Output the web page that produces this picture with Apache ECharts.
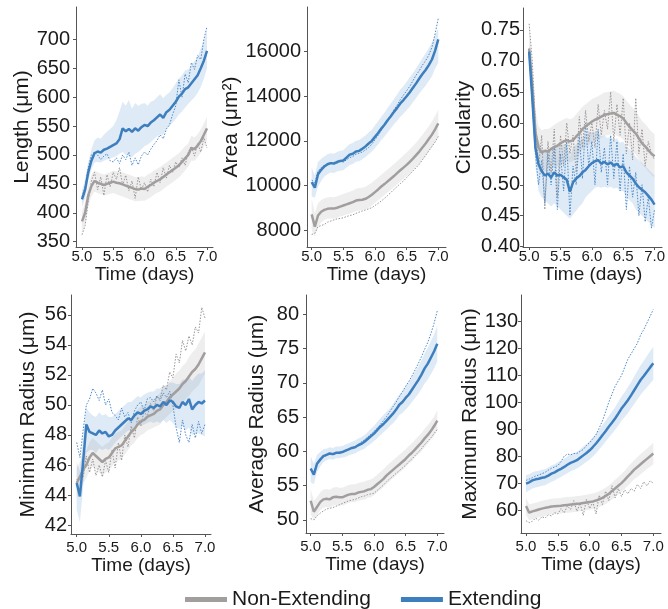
<!DOCTYPE html>
<html><head><meta charset="utf-8">
<script src="https://cdn.jsdelivr.net/npm/echarts@6/dist/echarts.min.js"></script>
<style>html,body{margin:0;padding:0;background:#fff}#c{width:668px;height:609px}</style>
</head><body><div id="c"></div>
<script>
// ---- data ----
const timeDays = [5.00,5.05,5.10,5.15,5.20,5.25,5.30,5.35,5.40,5.45,5.50,5.55,5.60,5.65,5.70,5.75,5.80,5.85,5.90,5.95,6.00,6.05,6.10,6.15,6.20,6.25,6.30,6.35,6.40,6.45,6.50,6.55,6.60,6.65,6.70,6.75,6.80,6.85,6.90,6.95,7.00];
const xTicks = [5.0,5.5,6.0,6.5,7.0];
const seriesNames = ['Non-Extending','Extending'];

// Length (um)
const lenTicks = [350,400,450,500,550,600,650,700];
const lenExtMean = [423,440,470,490,503,506,504,509,511,514,517,520,527,546,541,545,540,546,542,548,552,550,556,560,565,570,564,574,578,585,592,601,606,614,617,624,631,638,650,663,680];
const lenExtLo = [410,425,455,475,487,488,487,490,492,494,496,498,502,505,500,498,496,502,505,510,515,518,522,527,532,536,535,545,550,556,562,570,575,582,588,594,600,607,618,632,650];
const lenExtHi = [438,458,488,510,525,530,528,535,540,545,550,560,575,592,585,595,580,590,585,588,590,585,592,594,600,605,598,604,608,616,624,632,638,646,648,656,662,670,684,698,716];
const lenExtInd = [428,445,478,500,505,500,492,498,502,490,488,495,485,500,492,505,482,495,483,498,505,500,510,518,525,535,528,545,552,570,585,630,600,640,625,660,648,672,665,700,722];
const lenNonMean = [385,400,430,446,455,452,450,448,450,452,454,452,451,449,447,445,443,441,440,442,441,445,448,452,455,458,462,466,470,474,478,482,488,494,500,512,510,516,524,535,546];
const lenNonLo = [365,380,410,428,437,434,432,430,431,433,434,432,430,428,426,424,422,420,420,421,421,424,427,431,434,437,441,445,449,453,457,461,467,473,480,490,490,496,504,514,526];
const lenNonHi = [402,418,448,465,473,470,468,466,468,470,473,472,471,470,468,466,464,462,461,463,462,466,469,473,476,479,483,487,491,495,499,503,509,515,520,533,530,536,544,555,566];
const lenNonInd = [362,378,420,455,470,440,462,430,466,445,470,458,478,448,465,438,455,425,462,440,452,436,458,445,470,452,478,460,482,470,488,478,495,482,505,515,498,520,505,530,512];

// Area (um^2)
const areaTicks = [8000,10000,12000,14000,16000];
const areaExtMean = [10150,9900,10500,10700,10850,10950,11000,10980,11050,11100,11120,11250,11380,11420,11520,11550,11650,11750,11880,12000,12180,12350,12550,12720,12920,13100,13300,13480,13680,13830,14000,14180,14380,14580,14800,15000,15180,15400,15650,16050,16550];
const areaExtLo = [9500,9450,9950,10200,10400,10500,10580,10560,10620,10660,10680,10800,10920,10960,11060,11080,11180,11280,11400,11520,11680,11850,12040,12200,12380,12550,12740,12900,13080,13220,13380,13540,13730,13920,14120,14300,14470,14680,14900,15250,15500];
const areaExtHi = [10800,10450,11050,11200,11300,11400,11440,11420,11500,11560,11580,11720,11860,11900,12000,12040,12140,12240,12380,12500,12700,12880,13080,13260,13480,13680,13880,14080,14300,14460,14650,14850,15050,15260,15480,15720,15920,16150,16420,16750,17050];
const areaExtInd = [10250,10100,10650,10800,10900,10950,11000,11050,11000,11080,11050,11150,11250,11300,11400,11450,11500,11600,11700,11850,12050,12250,12480,12700,12950,13150,13400,13600,13850,14050,14250,14450,14700,14950,15150,15400,15600,15850,16200,16800,17500];
const areaNonMean = [8700,8150,8650,8820,8900,8950,8970,8960,9000,9050,9100,9150,9200,9250,9320,9350,9360,9400,9480,9580,9700,9820,9950,10060,10180,10300,10420,10550,10680,10800,10920,11060,11200,11360,11520,11700,11880,12080,12280,12520,12780];
const areaNonLo = [8000,7700,8150,8350,8450,8500,8520,8510,8550,8600,8640,8690,8740,8790,8850,8880,8890,8930,9000,9100,9220,9340,9460,9570,9690,9810,9930,10050,10180,10290,10410,10540,10680,10830,10980,11150,11330,11520,11710,11940,12180];
const areaNonHi = [9400,8750,9200,9350,9420,9460,9480,9470,9510,9560,9620,9670,9720,9770,9850,9880,9890,9940,10030,10120,10240,10360,10480,10600,10720,10840,10960,11090,11220,11350,11480,11620,11770,11920,12090,12270,12460,12660,12870,13120,13380];
const areaNonInd = [7800,7850,8150,8200,8250,8350,8400,8450,8500,8520,8550,8600,8650,8680,8750,8800,8850,8900,8950,9000,9100,9200,9300,9420,9550,9680,9820,9950,10080,10200,10350,10500,10650,10800,10950,11150,11350,11550,11750,11950,12200];

// Circularity
const circTicks = [0.40,0.45,0.50,0.55,0.60,0.65,0.70,0.75];
const circExtMean = [0.715,0.640,0.560,0.533,0.522,0.515,0.518,0.512,0.520,0.515,0.516,0.512,0.508,0.489,0.504,0.510,0.514,0.520,0.524,0.530,0.535,0.538,0.540,0.534,0.537,0.533,0.536,0.531,0.534,0.528,0.530,0.520,0.515,0.510,0.502,0.496,0.492,0.488,0.482,0.476,0.468];
const circExtLo = [0.70,0.62,0.53,0.49,0.48,0.475,0.47,0.465,0.47,0.465,0.46,0.455,0.45,0.445,0.452,0.458,0.465,0.47,0.48,0.485,0.49,0.495,0.497,0.495,0.497,0.495,0.497,0.494,0.495,0.49,0.49,0.48,0.475,0.47,0.46,0.455,0.45,0.445,0.44,0.435,0.43];
const circExtHi = [0.73,0.66,0.59,0.57,0.56,0.555,0.56,0.555,0.565,0.56,0.565,0.565,0.565,0.545,0.56,0.565,0.57,0.575,0.58,0.585,0.585,0.585,0.585,0.578,0.58,0.575,0.578,0.572,0.575,0.568,0.57,0.562,0.558,0.553,0.545,0.54,0.535,0.53,0.525,0.52,0.515];
const circExtInd = [0.72,0.63,0.55,0.50,0.54,0.47,0.55,0.50,0.56,0.46,0.55,0.49,0.57,0.45,0.53,0.50,0.58,0.51,0.60,0.53,0.57,0.50,0.59,0.52,0.56,0.50,0.58,0.51,0.57,0.49,0.55,0.46,0.53,0.48,0.52,0.45,0.50,0.44,0.48,0.43,0.46];
const circNonMean = [0.720,0.660,0.585,0.560,0.552,0.555,0.553,0.558,0.561,0.563,0.567,0.570,0.572,0.570,0.572,0.578,0.583,0.590,0.594,0.598,0.602,0.605,0.607,0.610,0.613,0.614,0.615,0.616,0.613,0.611,0.607,0.600,0.594,0.588,0.583,0.575,0.567,0.562,0.556,0.550,0.546];
const circNonLo = [0.70,0.63,0.55,0.525,0.52,0.522,0.52,0.525,0.527,0.53,0.533,0.536,0.538,0.536,0.538,0.544,0.55,0.556,0.56,0.564,0.568,0.571,0.573,0.576,0.579,0.58,0.581,0.582,0.579,0.577,0.573,0.566,0.56,0.554,0.549,0.541,0.533,0.528,0.522,0.516,0.512];
const circNonHi = [0.76,0.70,0.62,0.595,0.588,0.59,0.59,0.593,0.597,0.6,0.603,0.606,0.608,0.606,0.608,0.614,0.62,0.626,0.63,0.634,0.638,0.641,0.643,0.646,0.649,0.65,0.651,0.652,0.649,0.647,0.643,0.636,0.63,0.624,0.619,0.611,0.603,0.598,0.592,0.586,0.582];
const circNonInd = [0.76,0.70,0.60,0.53,0.58,0.46,0.57,0.52,0.59,0.48,0.58,0.53,0.60,0.55,0.58,0.52,0.61,0.56,0.62,0.57,0.60,0.56,0.63,0.58,0.62,0.59,0.65,0.57,0.63,0.58,0.64,0.55,0.60,0.54,0.64,0.55,0.59,0.53,0.57,0.55,0.54];

// Minimum radius (um)
const minTicks = [42,44,46,48,50,52,54,56];
const minExtMean = [44.8,43.9,46.2,48.7,48.2,48.1,48.0,48.3,48.1,48.2,47.9,48.0,48.3,48.5,48.7,48.9,49.1,49.0,49.3,49.5,49.4,49.6,49.7,49.9,49.8,50.0,49.9,50.2,50.0,50.3,50.2,49.9,49.8,50.2,50.0,50.4,49.7,50.0,50.2,50.1,50.3];
const minExtLo = [43.0,42.2,44.5,46.8,47.0,47.0,46.8,47.1,47.0,47.1,47.0,47.2,47.5,47.7,47.9,48.1,48.3,48.3,48.5,48.7,48.6,48.7,48.8,48.9,48.8,48.9,48.8,49.0,48.8,49.0,48.8,48.5,48.4,48.6,48.3,48.5,48.0,48.1,48.1,48.0,47.9];
const minExtHi = [46.2,45.6,47.8,49.8,49.5,49.3,49.2,49.5,49.3,49.4,49.2,49.2,49.4,49.6,49.8,50.0,50.2,50.2,50.4,50.6,50.5,50.7,50.8,50.9,50.9,51.1,51.1,51.3,51.3,51.5,51.5,51.4,51.4,51.7,51.7,51.9,51.6,51.9,52.1,52.1,52.3];
const minExtInd = [47.5,46.5,48.3,50.0,50.4,51.1,50.8,50.3,51.0,50.0,50.4,49.5,49.3,49.0,49.8,49.2,49.5,48.8,49.6,50.0,50.2,49.6,50.4,50.5,50.2,50.6,50.3,50.8,50.5,50.9,50.0,48.5,47.5,49.0,48.0,47.5,48.7,47.8,48.9,48.1,48.7];
const minNonMean = [44.8,45.2,45.7,46.0,46.5,46.8,46.6,46.4,46.2,46.4,46.5,46.8,47.1,47.2,47.3,47.6,47.9,48.2,48.4,48.7,48.9,49.0,49.2,49.3,49.4,49.6,49.7,50.0,50.2,50.5,50.7,50.9,51.1,51.4,51.6,51.9,52.2,52.4,52.7,53.1,53.5];
const minNonLo = [43.8,44.2,44.8,45.1,45.6,45.9,45.7,45.5,45.3,45.5,45.6,45.9,46.2,46.3,46.4,46.7,47.0,47.3,47.5,47.8,48.0,48.1,48.3,48.4,48.5,48.6,48.7,49.0,49.2,49.4,49.6,49.7,49.9,50.2,50.4,50.6,50.9,51.1,51.3,51.7,52.1];
const minNonHi = [45.8,46.2,46.7,47.0,47.5,47.8,47.6,47.4,47.2,47.4,47.5,47.8,48.1,48.2,48.3,48.6,48.9,49.2,49.4,49.7,49.9,50.0,50.2,50.3,50.4,50.6,50.8,51.1,51.3,51.6,51.8,52.1,52.3,52.6,52.8,53.2,53.5,53.7,54.1,54.5,54.9];
const minNonInd = [45.0,45.3,45.2,46.6,45.5,46.4,45.3,46.0,45.2,46.3,45.5,47.0,45.8,47.5,46.3,48.0,47.2,48.6,47.8,49.2,48.6,49.6,49.2,50.1,49.6,50.6,50.4,51.3,51.0,52.2,51.8,53.4,52.8,54.3,53.6,54.6,54.0,55.2,54.8,56.5,55.8];

// Average radius (um)
const avgTicks = [50,55,60,65,70,75,80];
const avgExtMean = [57.5,56.6,58.2,58.8,59.3,59.5,59.7,59.6,59.8,59.8,59.9,60.1,60.3,60.5,60.6,60.9,61.1,61.4,61.8,62.2,62.6,63.1,63.6,64.0,64.5,65.0,65.5,66.1,66.8,67.2,67.8,68.3,69.0,69.7,70.4,71.2,72.1,72.8,73.7,74.6,75.7];
const avgExtLo = [55.5,55.2,57.0,57.8,58.4,58.7,58.9,58.8,59.0,59.0,59.1,59.2,59.4,59.6,59.7,60.0,60.2,60.4,60.8,61.1,61.5,61.9,62.4,62.8,63.2,63.7,64.1,64.6,65.3,65.6,66.1,66.6,67.2,67.8,68.4,69.1,69.9,70.5,71.3,72.1,73.1];
const avgExtHi = [59.3,58.2,59.5,59.9,60.3,60.4,60.6,60.5,60.7,60.7,60.8,61.0,61.2,61.4,61.6,61.9,62.1,62.4,62.8,63.3,63.7,64.3,64.8,65.3,65.8,66.3,66.9,67.6,68.3,68.8,69.5,70.1,70.8,71.6,72.4,73.3,74.3,75.1,76.1,77.1,78.3];
const avgExtInd = [57.2,57.0,58.3,58.8,59.2,59.4,59.6,59.5,59.7,59.7,59.9,60.0,60.3,60.5,60.7,61.0,61.4,61.7,62.1,62.5,62.9,63.4,63.9,64.5,65.1,65.8,66.5,67.2,68.0,68.7,69.5,70.2,71.0,71.9,72.8,73.8,74.9,75.9,77.2,78.7,80.5];
const avgNonMean = [52.8,51.2,51.9,52.6,53.0,53.1,53.0,53.3,53.4,53.3,53.3,53.5,53.7,53.8,53.8,54.0,54.1,54.2,54.4,54.5,54.8,55.2,55.6,56.0,56.5,56.9,57.3,57.7,58.1,58.5,58.9,59.4,59.8,60.3,60.8,61.3,61.9,62.4,63.0,63.7,64.5];
const avgNonLo = [50.8,50.0,50.7,51.4,51.8,51.9,51.8,52.1,52.2,52.1,52.1,52.3,52.5,52.6,52.6,52.8,52.9,53.0,53.2,53.3,53.6,54.0,54.4,54.8,55.3,55.7,56.1,56.5,56.9,57.3,57.7,58.2,58.6,59.1,59.6,60.0,60.6,61.1,61.7,62.3,63.1];
const avgNonHi = [54.5,52.8,53.3,54.0,54.4,54.5,54.4,54.7,54.8,54.7,54.7,54.9,55.1,55.2,55.2,55.4,55.5,55.6,55.8,55.9,56.2,56.6,57.0,57.4,57.9,58.3,58.7,59.1,59.5,59.9,60.3,60.8,61.2,61.7,62.2,62.7,63.3,63.8,64.4,65.1,66.0];
const avgNonInd = [50.2,50.0,50.6,51.0,51.3,51.6,51.7,51.8,52.0,52.2,52.4,52.6,52.8,52.9,53.0,53.2,53.4,53.5,53.7,53.8,53.9,54.3,54.7,55.1,55.6,56.0,56.4,56.8,57.2,57.6,58.0,58.5,58.9,59.4,59.9,60.4,61.0,61.5,62.0,62.6,63.2];

// Maximum radius (um)
const maxTicks = [60,70,80,90,100,110,120,130];
const maxExtMean = [69.8,70.3,71.0,71.4,71.6,72.0,72.2,72.8,73.5,74.0,74.7,75.3,76.0,76.8,77.5,78.0,78.5,79.4,80.3,81.2,82.2,83.4,84.7,86.2,87.8,89.3,90.9,92.4,94.0,95.8,97.7,99.2,100.8,102.6,104.5,106.4,108.3,109.8,111.4,113.0,114.5];
const maxExtLo = [66.5,67.3,68.0,68.4,68.6,69.0,69.2,69.8,70.5,71.0,71.7,72.3,73.0,73.7,74.4,74.9,75.4,76.2,77.0,77.9,78.8,79.9,81.1,82.5,84.0,85.4,86.9,88.3,89.8,91.4,93.2,94.6,96.0,97.7,99.4,101.1,102.8,104.2,105.6,107.0,108.4];
const maxExtHi = [73.0,73.3,74.0,74.4,74.6,75.0,75.2,75.8,76.5,77.0,77.7,78.3,79.0,79.9,80.6,81.1,81.6,82.6,83.6,84.5,85.6,86.9,88.3,89.9,91.6,93.2,94.9,96.5,98.2,100.2,102.2,103.8,105.6,107.5,109.6,111.7,113.8,115.4,117.2,119.0,120.6];
const maxExtInd = [71.0,71.5,72.0,72.6,73.0,73.5,74.0,74.8,75.5,76.0,76.5,78.0,80.0,80.8,80.5,81.0,81.0,81.8,82.5,84.0,85.0,86.5,88.0,90.5,93.0,96.5,100.0,103.0,106.0,108.0,110.0,113.0,116.0,118.0,120.0,122.0,125.0,127.0,129.5,132.0,134.5];
const maxNonMean = [61.5,59.0,59.5,59.8,60.2,60.5,60.8,61.0,61.3,61.4,61.5,61.6,61.8,61.9,62.0,62.1,62.3,62.4,62.6,62.8,63.0,63.2,63.5,64.0,64.5,65.2,66.0,67.0,68.0,69.0,70.0,71.2,72.5,73.7,75.0,76.0,77.0,78.0,79.0,80.0,81.0];
const maxNonLo = [58.2,56.2,56.6,56.9,57.3,57.6,57.9,58.1,58.4,58.5,58.6,58.7,58.9,59.0,59.1,59.2,59.4,59.5,59.7,59.9,60.1,60.3,60.6,61.1,61.6,62.2,63.0,63.9,64.8,65.8,66.7,67.8,69.0,70.2,71.4,72.3,73.3,74.2,75.2,76.1,77.0];
const maxNonHi = [64.5,62.0,62.4,62.7,63.1,63.4,63.7,63.9,64.2,64.3,64.4,64.5,64.7,64.8,64.9,65.0,65.2,65.3,65.5,65.7,65.9,66.1,66.5,67.0,67.6,68.3,69.1,70.1,71.2,72.3,73.4,74.6,76.0,77.3,78.6,79.7,80.8,81.8,82.8,83.9,85.0];
const maxNonInd = [56.0,55.3,55.8,57.0,56.2,57.5,57.0,58.2,57.8,59.0,58.5,60.5,59.0,61.5,60.2,63.5,59.5,62.5,58.0,64.0,60.5,63.0,58.5,65.5,62.0,67.0,63.5,69.0,64.5,68.0,65.0,67.5,66.0,68.0,67.0,69.5,68.0,70.5,69.0,70.8,70.0];

// ---- layout / style ----
const FONT = '"Liberation Sans", Arial, Helvetica, sans-serif';
const GREY = '#a29e9e', BLUE = '#3d7ebf';
const GREY_BAND = 'rgba(175,172,172,0.2)', BLUE_BAND = 'rgba(90,150,205,0.2)';
const GREY_DOT = '#9a9595', BLUE_DOT = '#4c8acb';
const AXIS = '#555';

const panels = [
  {title:'Length (μm)', yTicks:lenTicks, dec:0,
   non:[lenNonMean,lenNonLo,lenNonHi,lenNonInd], ext:[lenExtMean,lenExtLo,lenExtHi,lenExtInd],
   grid:{left:76,top:7,width:137,height:240}, x:[4.904,7.096], y:[340.8,755.9], yGap:43, yMargin:6, xMargin:2, xGap:17},
  {title:'Area (μm²)', yTicks:areaTicks, dec:0,
   non:[areaNonMean,areaNonLo,areaNonHi,areaNonInd], ext:[areaExtMean,areaExtLo,areaExtHi,areaExtInd],
   grid:{left:307,top:7,width:139,height:240}, x:[4.926,7.122], y:[7237,18006], yGap:64, yMargin:6, xMargin:2, xGap:17},
  {title:'Circularity', yTicks:circTicks, dec:2,
   non:[circNonMean,circNonLo,circNonHi,circNonInd], ext:[circExtMean,circExtLo,circExtHi,circExtInd],
   grid:{left:523,top:8,width:143,height:239}, x:[4.902,7.119], y:[0.3995,0.7855], yGap:48, yMargin:3, xMargin:2, xGap:17},
  {title:'Minimum Radius (μm)', yTicks:minTicks, dec:0,
   non:[minNonMean,minNonLo,minNonHi,minNonInd], ext:[minExtMean,minExtLo,minExtHi,minExtInd],
   grid:{left:71,top:295,width:140,height:239}, x:[4.911,7.094], y:[41.4,57.33], yGap:32, yMargin:4, xMargin:6, xGap:21},
  {title:'Average Radius (μm)', yTicks:avgTicks, dec:0,
   non:[avgNonMean,avgNonLo,avgNonHi,avgNonInd], ext:[avgExtMean,avgExtLo,avgExtHi,avgExtInd],
   grid:{left:306,top:295,width:138,height:238}, x:[4.926,7.106], y:[48.10,82.81], yGap:38, yMargin:7, xMargin:6, xGap:21},
  {title:'Maximum Radius (μm)', yTicks:maxTicks, dec:0,
   non:[maxNonMean,maxNonLo,maxNonHi,maxNonInd], ext:[maxExtMean,maxExtLo,maxExtHi,maxExtInd],
   grid:{left:521,top:295,width:140,height:238}, x:[4.921,7.121], y:[51.45,139.9], yGap:40, yMargin:3, xMargin:6, xGap:21}
];

const grids = [], xAxes = [], yAxes = [], series = [];

function pairs(vals) { return timeDays.map((t, i) => [t, vals[i]]); }
function bandSeries(idx, lo, hi, color, name) {
  return {
    type: 'custom', name: name, xAxisIndex: idx, yAxisIndex: idx, silent: true, z: 1,
    data: [[timeDays[0], lo[0]]],
    renderItem: function (params, api) {
      if (params.dataIndex !== 0) return;
      const pts = [];
      for (let i = 0; i < timeDays.length; i++) pts.push(api.coord([timeDays[i], hi[i]]));
      for (let i = timeDays.length - 1; i >= 0; i--) pts.push(api.coord([timeDays[i], lo[i]]));
      return { type: 'polygon', shape: { points: pts }, style: { fill: color } };
    }
  };
}
function lineSeries(idx, vals, color, width, dotted, name, z) {
  return {
    type: 'line', name: name, xAxisIndex: idx, yAxisIndex: idx, z: z, silent: true,
    data: pairs(vals), showSymbol: false, symbol: 'none',
    lineStyle: { color: color, width: width, type: dotted ? [1.5, 1.5] : 'solid' },
    itemStyle: { color: color }
  };
}

panels.forEach((p, i) => {
  grids.push(Object.assign({ containLabel: false }, p.grid));
  xAxes.push({
    type: 'value', gridIndex: i, min: p.x[0], max: p.x[1],
    name: 'Time (days)', nameLocation: 'middle', nameGap: p.xGap,
    nameTextStyle: { fontSize: 19, color: '#1a1a1a', fontFamily: FONT },
    axisLine: { show: true, onZero: false, lineStyle: { color: AXIS, width: 1 } },
    axisTick: { show: true, length: 3, customValues: xTicks, lineStyle: { color: AXIS } },
    axisLabel: { customValues: xTicks, fontSize: 15, color: '#1a1a1a', fontFamily: FONT, margin: p.xMargin,
                 formatter: v => Number(v).toFixed(1) },
    splitLine: { show: false }
  });
  yAxes.push({
    type: 'value', gridIndex: i, min: p.y[0], max: p.y[1],
    name: p.title, nameLocation: 'middle', nameGap: p.yGap, nameRotate: 90,
    nameTextStyle: { fontSize: 21, color: '#1a1a1a', fontFamily: FONT },
    axisLine: { show: true, onZero: false, lineStyle: { color: AXIS, width: 1 } },
    axisTick: { show: true, length: 3, customValues: p.yTicks, lineStyle: { color: AXIS } },
    axisLabel: { customValues: p.yTicks, fontSize: 20, color: '#1a1a1a', fontFamily: FONT, margin: p.yMargin,
                 formatter: v => Number(v).toFixed(p.dec) },
    splitLine: { show: false }
  });
  series.push(bandSeries(i, p.non[1], p.non[2], GREY_BAND, seriesNames[0] + ' band'));
  series.push(bandSeries(i, p.ext[1], p.ext[2], BLUE_BAND, seriesNames[1] + ' band'));
  series.push(lineSeries(i, p.non[3], GREY_DOT, 1, true, seriesNames[0] + ' sample', 2));
  series.push(lineSeries(i, p.ext[3], BLUE_DOT, 1, true, seriesNames[1] + ' sample', 2));
  series.push(lineSeries(i, p.non[0], GREY, 2.5, false, seriesNames[0], 3));
  series.push(lineSeries(i, p.ext[0], BLUE, 2.5, false, seriesNames[1], 3));
});

const chart = echarts.init(document.getElementById('c'), null, { renderer: 'canvas' });
chart.setOption({
  animation: false,
  backgroundColor: '#fff',
  textStyle: { fontFamily: FONT },
  grid: grids, xAxis: xAxes, yAxis: yAxes, series: series,
  legend: {
    left: 180, top: 584, icon: 'rect', itemWidth: 42, itemHeight: 5, itemGap: 30,
    selectedMode: false,
    textStyle: { fontSize: 21, color: '#1a1a1a', fontFamily: FONT },
    data: [
      { name: seriesNames[0], itemStyle: { color: GREY } },
      { name: seriesNames[1], itemStyle: { color: BLUE } }
    ]
  }
});
</script></body></html>
